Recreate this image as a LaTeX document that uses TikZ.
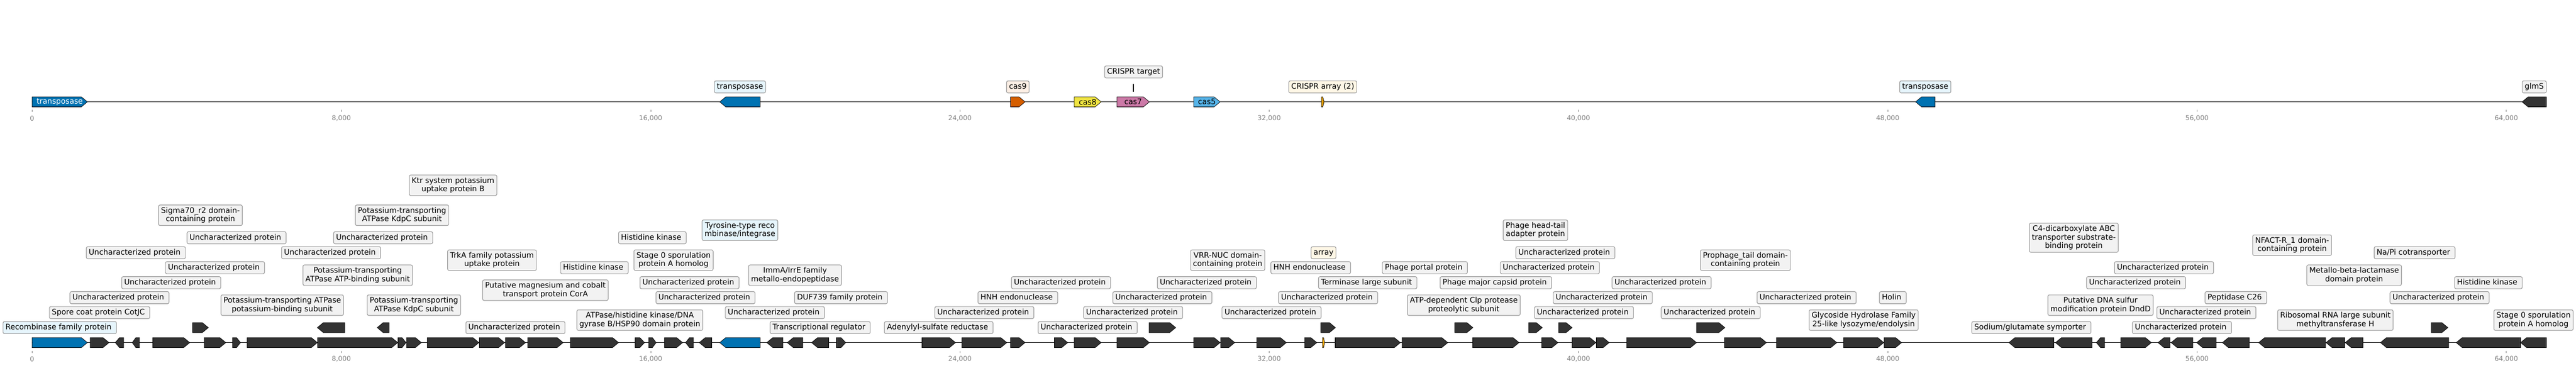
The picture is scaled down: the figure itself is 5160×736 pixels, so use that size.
\documentclass[tikz,border=0pt]{standalone}
\usepackage{fontspec}
\setmainfont{DejaVu Sans}
\pgfdeclarelayer{bg}
\pgfsetlayers{bg,main}
\definecolor{gfill}{HTML}{333333}
\definecolor{gblue}{HTML}{0072B2}
\definecolor{gorange}{HTML}{E69F00}
\definecolor{gverm}{HTML}{D55E00}
\definecolor{gyellow}{HTML}{F0E442}
\definecolor{gpink}{HTML}{CC79A7}
\definecolor{gsky}{HTML}{56B4E9}
\definecolor{boxfill}{HTML}{F2F2F2}
\definecolor{boxblue}{HTML}{E6F5FC}
\definecolor{boxorange}{HTML}{FCEFE5}
\definecolor{boxcream}{HTML}{FEF7E6}
\definecolor{boxline}{HTML}{999999}
\definecolor{conncol}{HTML}{4D4D4D}
\definecolor{tickcol}{HTML}{808080}
\newcommand\labfont{\fontsize{15.2}{17}\selectfont}
\newcommand\tickfont{\fontsize{13.3}{15}\selectfont}
\newcommand\lstrut{\rule[-3.6pt]{0pt}{15pt}}
\newcommand\tsp{\kern0.318em}
\newcommand\UP{Uncharacterized protein\tsp}
\newcommand\geneshape[5]{%
  \pgfmathsetmacro\gh{min(12,(#2-#1)/2)}%
  \pgfmathsetmacro\ga{#3>0?#1:#2}%
  \pgfmathsetmacro\gb{#3>0?#2:#1}%
  \pgfmathsetmacro\gc{\gb-(#3)*\gh}%
  \path[#5] (\ga,#4-10) -- (\gc,#4-10) -- (\gb,#4) -- (\gc,#4+10) -- (\ga,#4+10) -- cycle;}
\newcommand\feat[9]{%
  \geneshape{#2}{#3}{#4}{#5}{#6}%
  \pgfmathsetmacro\fx{(#2+#3)/2}%
  \coordinate (#1g) at (\fx,#5-10);%
  \node[lab,#8] (#1) at (\fx,#7) {\lstrut #9\lstrut};%
  \begin{pgfonlayer}{bg}\draw[conn] (#1g) -- (#1);\end{pgfonlayer}}
\begin{document}
\begin{tikzpicture}[x=1pt,y=-1pt,
  gene/.style={fill=gfill,draw=black,line width=0.8pt},
  lab/.style={draw=boxline,line width=1.2pt,fill=boxfill,rounded corners=3pt,inner xsep=5pt,inner ysep=4.5pt,align=center,font=\labfont},
  conn/.style={draw=conncol,line width=0.9pt},
  axisline/.style={draw=black,line width=1.4pt},
  tickmark/.style={draw=tickcol,line width=0.8pt},
  ticklab/.style={text=tickcol,font=\tickfont,inner sep=0pt},
  inl/.style={font=\labfont,inner sep=0pt,text=black}]
\useasboundingbox[fill=white] (0,0) rectangle (5160,736);
% ---------- axes and ticks ----------
\draw[axisline] (64.3,204) -- (5100.7,204);
\draw[axisline] (64.3,686) -- (5100.7,686);
\foreach \i/\t in {0/0,1/{8,000},2/{16,000},3/{24,000},4/{32,000},5/{40,000},6/{48,000},7/{56,000},8/{64,000}}{
  \pgfmathsetmacro\tx{64.3+619.5*\i}
  \draw[tickmark] (\tx,219.5) -- (\tx,224);
  \node[ticklab] (tt\i) at (\tx,237) {\t};
  \draw[tickmark] (\tx,702.5) -- (\tx,707);
  \node[ticklab] (tb\i) at (\tx,719) {\t};
}
% ---------- top track ----------
\geneshape{64.3}{175}{1}{204}{gene,fill=gblue}
\node[inl,text=white] (t1) at (119.65,204) {transposase};
\feat{t2}{1441.7}{1522.7}{-1}{204}{gene,fill=gblue}{174}{fill=boxblue}{transposase}
\feat{t3}{2024.3}{2053.3}{1}{204}{gene,fill=gverm}{174}{fill=boxorange}{cas9}
\geneshape{2151.7}{2205.7}{1}{204}{gene,fill=gyellow}
\node[inl] (t4) at (2178.7,204) {cas8};
\geneshape{2237.3}{2302.3}{1}{204}{gene,fill=gpink}
\node[inl] (t5) at (2269.8,204) {cas7};
\fill[black] (2269.7,168) rectangle (2271.7,184);
\coordinate (t6g) at (2270.7,168);
\node[lab] (t6) at (2270.7,144) {\lstrut CRISPR target\lstrut};
\begin{pgfonlayer}{bg}\draw[conn] (t6g) -- (t6);\end{pgfonlayer}
\geneshape{2391}{2444}{1}{204}{gene,fill=gsky}
\node[inl] (t7) at (2417.5,204) {cas5};
\feat{t8}{2647}{2652.2}{1}{204}{gene,fill=gorange}{174}{fill=boxcream}{CRISPR array (2)}
\feat{t9}{3837}{3876}{-1}{204}{gene,fill=gblue}{174}{fill=boxblue}{transposase}
\feat{t10}{5052}{5100.7}{-1}{204}{gene}{174}{}{glmS}
% ---------- bottom track ----------
\feat{b1}{64.3}{175}{1}{686}{gene,fill=gblue}{656}{fill=boxblue}{Recombinase family protein\tsp}
\feat{b2}{180.7}{218.3}{1}{686}{gene}{626}{}{Spore coat protein CotJC\tsp}
\feat{b3}{231}{247.7}{-1}{686}{gene}{596}{}{\UP}
\feat{b4}{265}{279.3}{-1}{686}{gene}{506}{}{\UP}
\feat{b5}{306}{380}{1}{686}{gene}{566}{}{\UP}
\feat{b6}{385.7}{417.3}{1}{656}{gene}{431}{}{Sigma70\_r2 domain-\\containing protein}
\feat{b7}{409}{452.3}{1}{686}{gene}{536}{}{\UP}
\feat{b8}{466}{481.7}{1}{686}{gene}{476}{}{\UP}
\feat{b9}{495}{635.7}{1}{686}{gene}{611}{}{Potassium-transporting ATPase\\potassium-binding subunit}
\feat{b10}{635.7}{690.7}{-1}{656}{gene}{506}{}{\UP}
\feat{b11}{636.3}{796.7}{1}{686}{gene}{551}{}{Potassium-transporting\\ATPase ATP-binding subunit}
\feat{b12}{755.7}{779.3}{-1}{656}{gene}{476}{}{\UP}
\feat{b13}{797.3}{813.3}{1}{686}{gene}{431}{}{Potassium-transporting\\ATPase KdpC subunit}
\feat{b14}{814.3}{844}{1}{686}{gene}{611}{}{Potassium-transporting\\ATPase KdpC subunit}
\feat{b15}{855.7}{959.3}{1}{686}{gene}{371}{}{Ktr system potassium\\uptake protein B}
\feat{b16}{960.3}{1010.7}{1}{686}{gene}{521}{}{TrkA family potassium\\uptake protein}
\feat{b17}{1012.3}{1052.7}{1}{686}{gene}{656}{}{\UP}
\feat{b18}{1057}{1128}{1}{686}{gene}{581}{}{Putative magnesium and cobalt\\transport protein CorA}
\feat{b19}{1142.3}{1239}{1}{686}{gene}{536}{}{Histidine kinase\tsp}
\feat{b20}{1272.3}{1291}{1}{686}{gene}{641}{}{ATPase/histidine kinase/DNA\\gyrase B/HSP90 domain protein}
\feat{b21}{1299.3}{1314.3}{1}{686}{gene}{476}{}{Histidine kinase\tsp}
\feat{b22}{1331}{1367.3}{1}{686}{gene}{521}{}{Stage 0 sporulation\\protein A homolog}
\feat{b23}{1373.3}{1389}{-1}{686}{gene}{566}{}{\UP}
\feat{b24}{1400.7}{1425.7}{-1}{686}{gene}{596}{}{\UP}
\feat{b25}{1441.7}{1522.7}{-1}{686}{gene,fill=gblue}{461}{fill=boxblue}{Tyrosine-type reco\\mbinase/integrase}
\feat{b26}{1536}{1568.3}{-1}{686}{gene}{626}{}{\UP}
\feat{b27}{1577}{1608}{-1}{686}{gene}{551}{}{ImmA/IrrE family\\metallo-endopeptidase}
\feat{b28}{1625.7}{1660}{-1}{686}{gene}{656}{}{Transcriptional regulator\tsp}
\feat{b29}{1675.3}{1694}{1}{686}{gene}{596}{}{DUF739 family protein\tsp}
\feat{b30}{1846.7}{1914}{1}{686}{gene}{656}{}{Adenylyl-sulfate reductase\tsp}
\feat{b31}{1926.7}{2016.7}{1}{686}{gene}{626}{}{\UP}
\feat{b32}{2024.3}{2053.3}{1}{686}{gene}{596}{}{HNH endonuclease\tsp}
\feat{b33}{2112}{2138.7}{1}{686}{gene}{566}{}{\UP}
\feat{b34}{2151.7}{2205.7}{1}{686}{gene}{656}{}{\UP}
\feat{b35}{2237.3}{2302.3}{1}{686}{gene}{626}{}{\UP}
\feat{b36}{2301.7}{2355}{1}{656}{gene}{596}{}{\UP}
\feat{b37}{2391}{2444}{1}{686}{gene}{566}{}{\UP}
\feat{b38}{2445}{2473.3}{1}{686}{gene}{521}{}{VRR-NUC domain-\\containing protein}
\feat{b39}{2517.3}{2576.7}{1}{686}{gene}{626}{}{\UP}
\feat{b40}{2613.3}{2637.7}{1}{686}{gene}{536}{}{HNH endonuclease\tsp}
\feat{b41}{2649}{2653.3}{1}{686}{gene,fill=gorange}{506}{fill=boxcream}{array}
\feat{b42}{2645.7}{2675}{1}{656}{gene}{596}{}{\UP}
\feat{b43}{2674.3}{2805}{1}{686}{gene}{566}{}{Terminase large subunit\tsp}
\feat{b44}{2808.3}{2900}{1}{686}{gene}{536}{}{Phage portal protein\tsp}
\feat{b45}{2914}{2950.3}{1}{656}{gene}{611}{}{ATP-dependent Clp protease\\proteolytic subunit}
\feat{b46}{2950}{3042.7}{1}{686}{gene}{566}{}{Phage major capsid protein\tsp}
\feat{b47}{3062}{3089.3}{1}{656}{gene}{461}{}{Phage head-tail\\adapter protein}
\feat{b48}{3088.3}{3120.7}{1}{686}{gene}{536}{}{\UP}
\feat{b49}{3122}{3149}{1}{656}{gene}{506}{}{\UP}
\feat{b50}{3149}{3196.7}{1}{686}{gene}{626}{}{\UP}
\feat{b51}{3197.7}{3223.3}{1}{686}{gene}{596}{}{\UP}
\feat{b52}{3258.3}{3398.3}{1}{686}{gene}{566}{}{\UP}
\feat{b53}{3398.3}{3455}{1}{656}{gene}{626}{}{\UP}
\feat{b54}{3454}{3538.3}{1}{686}{gene}{521}{}{Prophage\_tail domain-\\containing protein}
\feat{b55}{3558.3}{3679.3}{1}{686}{gene}{596}{}{\UP}
\feat{b56}{3692.7}{3773.3}{1}{686}{gene}{641}{}{Glycoside Hydrolase Family\\25-like lysozyme/endolysin}
\feat{b57}{3774}{3809}{1}{686}{gene}{596}{}{Holin\tsp}
\feat{b58}{4024}{4114}{-1}{686}{gene}{656}{}{Sodium/glutamate symporter\tsp}
\feat{b59}{4117.3}{4190.7}{-1}{686}{gene}{476}{}{C4-dicarboxylate ABC\\transporter substrate-\\binding protein}
\feat{b60}{4199.3}{4215.7}{-1}{686}{gene}{611}{}{Putative DNA sulfur\\modification protein DndD}
\feat{b61}{4248.3}{4309.3}{1}{686}{gene}{566}{}{\UP}
\feat{b62}{4322.7}{4346.7}{-1}{686}{gene}{536}{}{\UP}
\feat{b63}{4349}{4392.3}{-1}{686}{gene}{656}{}{\UP}
\feat{b64}{4400}{4439.3}{-1}{686}{gene}{626}{}{\UP}
\feat{b65}{4451.7}{4505.7}{-1}{686}{gene}{596}{}{Peptidase C26\tsp}
\feat{b66}{4524.3}{4658.3}{-1}{686}{gene}{491}{}{NFACT-R\_1 domain-\\containing protein}
\feat{b67}{4659.3}{4696.7}{-1}{686}{gene}{641}{}{Ribosomal RNA large subunit\\methyltransferase H}
\feat{b68}{4697.7}{4733.3}{-1}{686}{gene}{551}{}{Metallo-beta-lactamase\\domain protein}
\feat{b69}{4768.3}{4905}{-1}{686}{gene}{506}{}{Na/Pi cotransporter\tsp}
\feat{b70}{4870}{4903.3}{1}{656}{gene}{596}{}{\UP}
\feat{b71}{4920}{5049}{-1}{686}{gene}{566}{}{Histidine kinase\tsp}
\feat{b72}{5049}{5100.7}{-1}{686}{gene}{641}{}{Stage 0 sporulation\\protein A homolog}
\end{tikzpicture}
\end{document}
